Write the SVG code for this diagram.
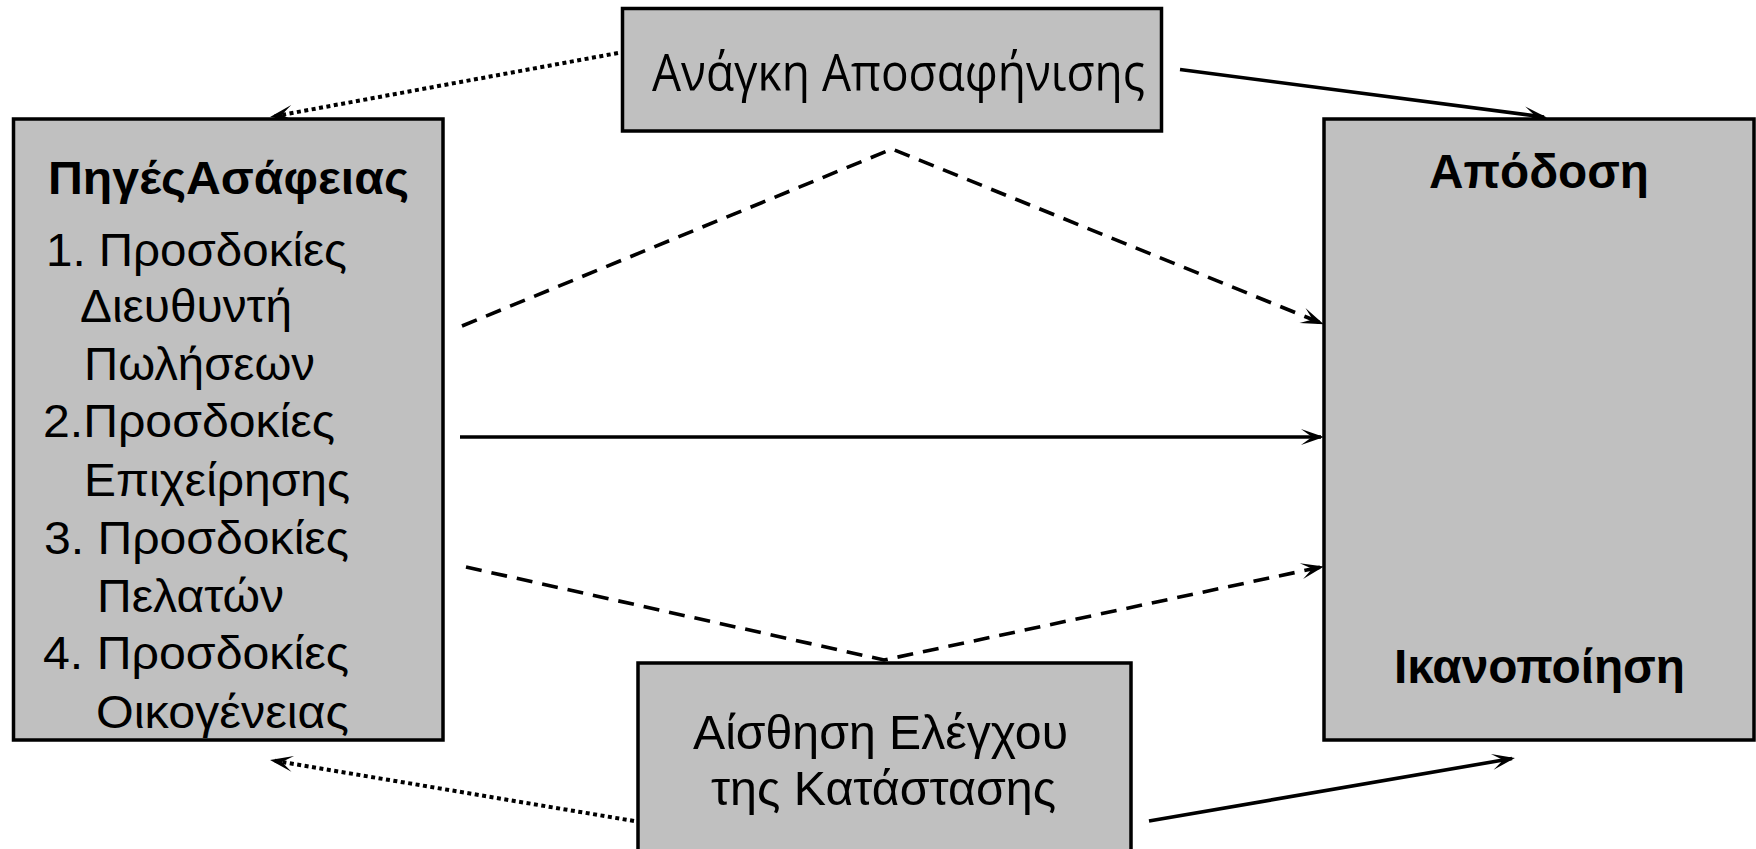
<svg xmlns="http://www.w3.org/2000/svg" width="1756" height="849" viewBox="0 0 1756 849">
  <style>
    .box { fill: #c0c0c0; stroke: #000; stroke-width: 3.5; }
    .t { font-family: "Liberation Sans", Arial, sans-serif; fill: #000; }
    .reg { font-size: 47px; }
    .mid { font-size: 48px; }
    .top { font-family: "Open Sans", "Liberation Sans", sans-serif; font-size: 51px; fill: #000; }
    .bold { font-weight: bold; }
    .conn { fill: none; stroke: #000; stroke-width: 3.6; }
    .dashed { stroke-dasharray: 16 10; }
    .dotted { stroke-width: 4; stroke-dasharray: 4 3.5; }
  </style>
  <defs>
    <marker id="arrow" markerUnits="userSpaceOnUse" viewBox="-25 -10 27 20" refX="-3" refY="0" markerWidth="27" markerHeight="20" orient="auto">
      <path d="M0,0 L-23,-8 L-12,0 L-23,8 Z" fill="#000" stroke="none"/>
    </marker>
  </defs>

  <rect width="1756" height="849" fill="#fff"/>

  <!-- connectors -->
  <g id="connectors">
    <path class="conn dotted" d="M618,53 L273,116.5" marker-end="url(#arrow)"/>
    <path class="conn" d="M1180,69.5 L1544,117" marker-end="url(#arrow)"/>
    <path class="conn dashed" d="M462,326 L892,149 L1321,323" marker-end="url(#arrow)"/>
    <path class="conn" d="M460,437 L1321,437" marker-end="url(#arrow)"/>
    <path class="conn dashed" d="M466,567 L884,660 L1321,567" marker-end="url(#arrow)"/>
    <path class="conn dotted" d="M634,821 L273,760.5" marker-end="url(#arrow)"/>
    <path class="conn" d="M1149,821 L1512,758.5" marker-end="url(#arrow)"/>
  </g>

  <!-- need for disambiguation -->
  <g id="node-need">
    <rect class="box" x="622.5" y="8.5" width="539" height="122.5"/>
    <text class="top" x="652" y="91" textLength="493" lengthAdjust="spacingAndGlyphs">Ανάγκη Αποσαφήνισης</text>
  </g>

  <!-- sources of ambiguity -->
  <g id="node-sources">
    <rect class="box" x="13.5" y="119" width="429.5" height="621"/>
    <text class="t bold" x="48" y="194" font-size="47" textLength="361" lengthAdjust="spacingAndGlyphs">ΠηγέςΑσάφειας</text>
    <text class="t reg" x="46" y="266" textLength="301" lengthAdjust="spacingAndGlyphs">1. Προσδοκίες</text>
    <text class="t reg" x="80" y="322" textLength="212" lengthAdjust="spacingAndGlyphs">Διευθυντή</text>
    <text class="t reg" x="84" y="380" textLength="231" lengthAdjust="spacingAndGlyphs">Πωλήσεων</text>
    <text class="t reg" x="43" y="437" textLength="292" lengthAdjust="spacingAndGlyphs">2.Προσδοκίες</text>
    <text class="t reg" x="84" y="496" textLength="266" lengthAdjust="spacingAndGlyphs">Επιχείρησης</text>
    <text class="t reg" x="44" y="554" textLength="305" lengthAdjust="spacingAndGlyphs">3. Προσδοκίες</text>
    <text class="t reg" x="97" y="612" textLength="187" lengthAdjust="spacingAndGlyphs">Πελατών</text>
    <text class="t reg" x="43" y="669" textLength="306" lengthAdjust="spacingAndGlyphs">4. Προσδοκίες</text>
    <text class="t reg" x="96" y="728" textLength="253" lengthAdjust="spacingAndGlyphs">Οικογένειας</text>
  </g>

  <!-- outcomes -->
  <g id="node-outcomes">
    <rect class="box" x="1324" y="119" width="430" height="621"/>
    <text class="t mid bold" x="1429" y="188" textLength="220" lengthAdjust="spacingAndGlyphs">Απόδοση</text>
    <text class="t mid bold" x="1394" y="683" textLength="291" lengthAdjust="spacingAndGlyphs">Ικανοποίηση</text>
  </g>

  <!-- sense of control -->
  <g id="node-control">
    <rect class="box" x="638" y="663" width="493" height="220"/>
    <text class="t mid" x="693" y="749" textLength="375" lengthAdjust="spacingAndGlyphs">Αίσθηση Ελέγχου</text>
    <text class="t mid" x="711" y="805" textLength="345" lengthAdjust="spacingAndGlyphs">της Κατάστασης</text>
  </g>
</svg>
